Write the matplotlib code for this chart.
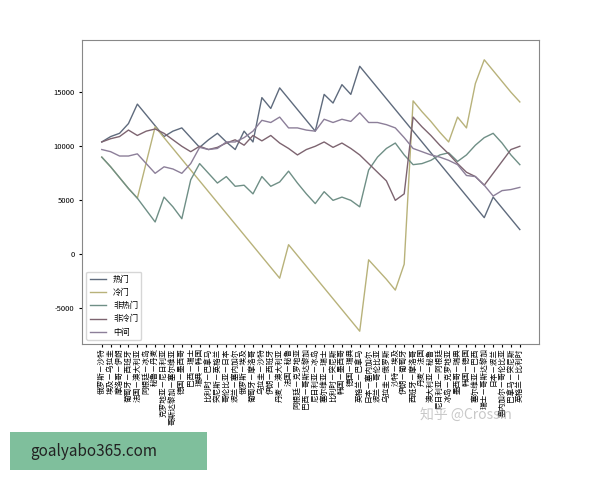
import matplotlib
matplotlib.use("Agg")
import matplotlib.pyplot as plt
from matplotlib.patches import Rectangle

plt.rcParams['font.family'] = ['Noto Sans CJK SC', 'DejaVu Sans']
plt.rcParams['axes.unicode_minus'] = False

matches = ["俄罗斯－沙特","埃及－乌拉圭","摩洛哥－伊朗","葡萄牙－西班牙","法国－澳大利亚","阿根廷－冰岛",
"秘鲁－丹麦","克罗地亚－尼日利亚","哥斯达黎加－塞尔维亚","德国－墨西哥","巴西－瑞士","瑞典－韩国",
"比利时－巴拿马","突尼斯－英格兰","哥伦比亚－日本","波兰－塞内加尔","俄罗斯－埃及","葡萄牙－摩洛哥",
"乌拉圭－沙特","伊朗－西班牙","丹麦－澳大利亚","法国－秘鲁","阿根廷－克罗地亚","巴西－哥斯达黎加",
"尼日利亚－冰岛","塞尔维亚－瑞士","比利时－突尼斯","韩国－墨西哥","德国－瑞典","英格兰－巴拿马",
"日本－塞内加尔","波兰－哥伦比亚","乌拉圭－俄罗斯","沙特－埃及","伊朗－葡萄牙","西班牙－摩洛哥",
"丹麦－法国","澳大利亚－秘鲁","尼日利亚－阿根廷","冰岛－克罗地亚","墨西哥－瑞典","韩国－德国",
"塞尔维亚－巴西","瑞士－哥斯达黎加","日本－波兰","塞内加尔－哥伦比亚","巴拿马－突尼斯","英格兰－比利时"]

hot = [10400,10900,11200,12100,13900,12900,11900,10900,11400,11700,10800,9900,10600,11200,10400,9700,
       11400,10400,14500,13500,15400,14400,13400,12400,11400,14800,14000,15700,14800,17400,
       16400,15400,14400,13400,12400,11400,10400,9400,8400,7400,6400,5400,4400,3400,5300,4300,3300,2300]
cold = [9000,8100,7100,6100,5200,8500,11800,10800,9800,8800,7800,6800,5800,4800,3800,2800,1800,800,
        -200,-1200,-2200,900,-100,-1100,-2100,-3100,-4100,-5100,-6100,-7100,-500,-1400,-2300,-3300,-900,
        14200,13200,12300,11300,10400,12700,11700,15800,18000,17000,16000,15000,14100]
nonhot = [9000,8100,7100,6100,5200,4100,3000,5300,4400,3300,6900,8400,7500,6600,7200,6300,6400,5600,7200,6300,
          6700,7700,6600,5600,4700,5800,5000,5300,5000,4400,7800,9000,9800,10300,9200,8300,8400,8700,9200,9400,
          8600,9200,10100,10800,11200,10300,9200,8300]
noncold = [10400,10700,10900,11500,11000,11400,11600,11200,10600,10000,9500,10000,9700,9900,10300,10600,10100,
           11000,10500,11000,10300,9800,9200,9700,10000,10400,9900,10300,9800,9200,8400,7600,6800,5000,5600,
           12700,11800,11000,10100,9300,8400,7600,7200,6400,7500,8600,9700,10000]
middle = [9700,9500,9100,9100,9300,8400,7500,8100,7900,7500,8400,9900,9700,9800,10400,10400,10800,11400,12400,12200,
          12700,11700,11700,11500,11400,12500,12200,12500,12300,13100,12200,12200,12000,11700,10800,9800,9500,9200,
          9000,8700,8300,7300,7200,6400,5400,5900,6000,6200]

series = [("热门", hot, "#5f6b7d"), ("冷门", cold, "#b8b27a"), ("非热门", nonhot, "#6f8f86"),
          ("非冷门", noncold, "#7d6470"), ("中间", middle, "#8c7f99")]

fig = plt.figure(figsize=(6, 4.8), dpi=100)
ax = fig.add_axes([0.137, 0.283, 0.762, 0.633])
x = list(range(len(matches)))
for name, vals, c in series:
    ax.plot(x, vals, color=c, lw=1.0, label=name)
ax.set_xlim(-2.2, 49.2)
ax.set_ylim(-8300, 19800)
ax.set_yticks([-5000, 0, 5000, 10000, 15000])
ax.tick_params(axis='y', labelsize=5.5, length=2)
ax.set_xticks(x)
ax.set_xticklabels(matches, rotation=90, fontsize=5.5)
ax.tick_params(axis='x', length=2, pad=1)
for s in ax.spines.values():
    s.set_color('#888888')
ax.legend(loc='lower left', fontsize=6, frameon=True)

fig.text(0.70, 0.125, "知乎 @Crossin", fontsize=10, color='#bbbbbb', alpha=0.8)
fig.patches.append(Rectangle((0.017, 0.02), 0.328, 0.08, transform=fig.transFigure,
                             facecolor='#7fbf9c', edgecolor='none'))
fig.text(0.05, 0.06, "goalyabo365.com", fontsize=11, color='#222222', va='center')
fig.savefig("out.png", dpi=100)
